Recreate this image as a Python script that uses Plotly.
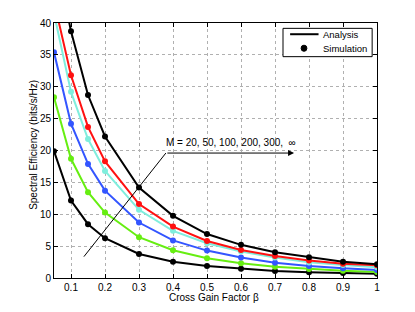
import plotly.graph_objects as go

beta = [0.05, 0.1, 0.15, 0.2, 0.3, 0.4, 0.5, 0.6, 0.7, 0.8, 0.9, 1.0]

se_m20 = [19.9, 12.15, 8.44, 6.24, 3.77, 2.56, 1.89, 1.47, 1.10, 0.90, 0.79, 0.68]
se_m50 = [28.35, 18.7, 13.47, 10.27, 6.4, 4.35, 3.1, 2.3, 1.78, 1.42, 1.15, 0.94]
se_m100 = [35.4, 24.2, 17.9, 13.7, 8.7, 5.9, 4.3, 3.2, 2.4, 1.9, 1.52, 1.26]
se_m200 = [41.5, 29.2, 21.8, 16.8, 10.7, 7.4, 5.45, 4.15, 3.2, 2.45, 2.05, 1.7]
se_m300 = [43.4, 31.8, 23.7, 18.3, 11.6, 8.07, 5.8, 4.4, 3.46, 2.73, 2.25, 2.0]
se_inf = [52.0, 38.7, 28.7, 22.2, 14.2, 9.75, 6.9, 5.2, 4.03, 3.25, 2.56, 2.15]

series = [
    ("M=20", se_m20, "#000000"),
    ("M=50", se_m50, "#66ee11"),
    ("M=100", se_m100, "#3355ff"),
    ("M=200", se_m200, "#7feedd"),
    ("M=300", se_m300, "#ff1111"),
    ("M=inf", se_inf, "#000000"),
]

x_ticks = [0.1, 0.2, 0.3, 0.4, 0.5, 0.6, 0.7, 0.8, 0.9, 1.0]
x_tick_labels = ["0.1", "0.2", "0.3", "0.4", "0.5", "0.6", "0.7", "0.8", "0.9", "1"]
y_ticks = [0, 5, 10, 15, 20, 25, 30, 35, 40]
legend_labels = ["Analysis", "Simulation"]
x_title = "Cross Gain Factor β"
y_title = "Spectral Efficiency (bits/s/Hz)"

font = "Liberation Sans, Arial, sans-serif"

fig = go.Figure()
for name, vals, col in series:
    fig.add_trace(go.Scatter(
        x=beta, y=vals, mode="lines+markers", name=name, showlegend=False,
        line=dict(color=col, width=2), marker=dict(color=col, size=6),
        cliponaxis=True,
    ))

axis_common = dict(
    showline=True, linecolor="black", linewidth=1, mirror="ticks",
    ticks="inside", ticklen=4, tickcolor="black",
    showgrid=True, gridcolor="#b0b0b0", griddash="dot", gridwidth=1,
    zeroline=False, tickfont=dict(family=font, size=10, color="black"),
    automargin=False,
)

# page body has an 8px margin: figure is shrunk so the plot area lands at the right place
fig.update_layout(
    width=407, height=304,
    margin=dict(l=46, r=38, t=15, b=34, autoexpand=False),
    paper_bgcolor="white", plot_bgcolor="white",
    font=dict(family=font, size=10, color="black"),
    xaxis=dict(range=[0.05, 1.0], tickvals=x_ticks, ticktext=x_tick_labels, **axis_common),
    yaxis=dict(range=[0, 40], tickvals=y_ticks, **axis_common),
    showlegend=False,
)

fig.add_annotation(x=0.495, y=-0.075, xref="paper", yref="paper", text=x_title,
                   showarrow=False, xanchor="center", yanchor="middle",
                   font=dict(family=font, size=10, color="black"))
fig.add_annotation(x=-0.062, y=0.522, xref="paper", yref="paper", text=y_title,
                   showarrow=False, xanchor="center", yanchor="middle", textangle=-90,
                   font=dict(family=font, size=10, color="black"))

# manual legend box
fig.add_shape(type="rect", xref="paper", yref="paper", x0=0.709, x1=0.985, y0=0.868, y1=0.979,
              line=dict(color="black", width=1), fillcolor="white", layer="above")
fig.add_shape(type="line", xref="paper", yref="paper", x0=0.731, x1=0.819, y0=0.956, y1=0.956,
              line=dict(color="black", width=2), layer="above")
fig.add_shape(type="circle", xref="paper", yref="paper", x0=0.765, x1=0.783, y0=0.889, y1=0.913,
              line=dict(color="black", width=1), fillcolor="black", layer="above")
for lbl, yy in zip(legend_labels, [0.956, 0.901]):
    fig.add_annotation(x=0.827, y=yy, xref="paper", yref="paper", text=lbl, showarrow=False,
                       xanchor="left", yanchor="middle",
                       font=dict(family=font, size=9.5, color="black"))

fig.add_shape(type="line", x0=0.138, y0=3.35, x1=0.379, y1=19.6,
              line=dict(color="black", width=1))
fig.add_annotation(x=0.756, y=19.6, ax=0.379, ay=19.6, axref="x", ayref="y",
                   xref="x", yref="y", text="", showarrow=True,
                   arrowhead=2, arrowsize=1.2, arrowwidth=1, arrowcolor="black")
fig.add_annotation(x=0.57, y=21.3, xref="x", yref="y", showarrow=False,
                   text="M = 20, 50, 100, 200, 300,  ∞",
                   font=dict(family=font, size=10, color="black"))

fig.write_html("out.html")
